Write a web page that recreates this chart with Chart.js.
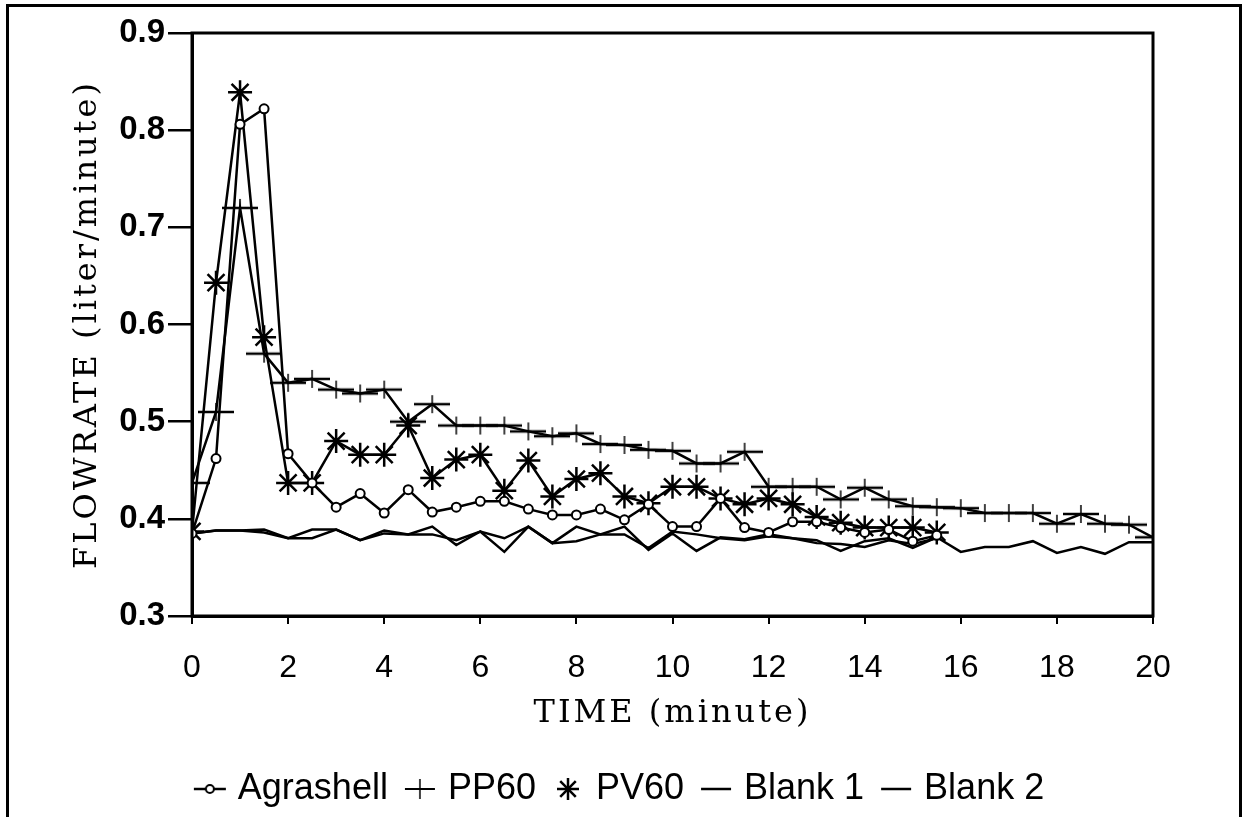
<!DOCTYPE html>
<html>
<head>
<meta charset="UTF-8" />
<title>Flowrate vs time</title>
<script src="https://cdn.jsdelivr.net/npm/chart.js@4.4.1/dist/chart.umd.min.js"></script>
<style>
  body { margin: 0; background: #fff; }
  #wrap { position: relative; width: 1244px; height: 817px; overflow: hidden; }
  #frame { position: absolute; left: 6px; top: 4px; width: 1230px; height: 900px; border: 3px solid #000; }
  canvas { position: absolute; left: 0; top: 0; }
</style>
</head>
<body>
<div id="wrap">
  <div id="frame"></div>
  <canvas id="flowChart" width="1244" height="817"></canvas>
</div>
<script>
// time in minutes
var times = [0, 0.5, 1, 1.5, 2, 2.5, 3, 3.5, 4, 4.5, 5, 5.5, 6, 6.5, 7, 7.5, 8, 8.5, 9, 9.5,
             10, 10.5, 11, 11.5, 12, 12.5, 13, 13.5, 14, 14.5, 15, 15.5, 16, 16.5, 17, 17.5,
             18, 18.5, 19, 19.5, 20];

var agrashell = [0.385, 0.462, 0.806, 0.822, 0.467, 0.437, 0.412, 0.426, 0.406, 0.430,
                 0.407, 0.412, 0.418, 0.418, 0.410, 0.404, 0.404, 0.410, 0.399, 0.415,
                 0.392, 0.392, 0.421, 0.391, 0.386, 0.397, 0.397, 0.391, 0.386, 0.389,
                 0.377, 0.383];

var pp60 = [0.437, 0.510, 0.720, 0.570, 0.540, 0.544, 0.533, 0.529, 0.533, 0.500,
            0.518, 0.496, 0.496, 0.496, 0.490, 0.485, 0.488, 0.477, 0.476, 0.471,
            0.470, 0.457, 0.457, 0.469, 0.433, 0.433, 0.433, 0.420, 0.432, 0.420,
            0.413, 0.412, 0.411, 0.406, 0.406, 0.406, 0.395, 0.405, 0.395, 0.394,
            0.381];

var pv60 = [0.387, 0.643, 0.839, 0.587, 0.437, 0.437, 0.480, 0.466, 0.466, 0.496,
            0.442, 0.461, 0.466, 0.429, 0.460, 0.423, 0.441, 0.447, 0.423, 0.416,
            0.433, 0.433, 0.421, 0.415, 0.421, 0.415, 0.402, 0.396, 0.391, 0.391,
            0.391, 0.386];

var blank1 = [0.385, 0.388, 0.388, 0.389, 0.380, 0.389, 0.389, 0.378, 0.388, 0.384,
              0.392, 0.373, 0.387, 0.366, 0.392, 0.375, 0.392, 0.384, 0.392, 0.368,
              0.385, 0.367, 0.381, 0.379, 0.384, 0.380, 0.378, 0.367, 0.377, 0.380,
              0.370, 0.381, 0.366, 0.371, 0.371, 0.377, 0.365, 0.371, 0.364, 0.376,
              0.376];

var blank2 = [0.385, 0.388, 0.388, 0.386, 0.380, 0.380, 0.389, 0.378, 0.385, 0.384,
              0.384, 0.378, 0.387, 0.380, 0.392, 0.375, 0.377, 0.384, 0.384, 0.370,
              0.387, 0.384, 0.380, 0.378, 0.382, 0.380, 0.375, 0.374, 0.371, 0.378,
              0.374, 0.380];

var yTicks = [0.3, 0.4, 0.5, 0.6, 0.7, 0.8, 0.9];
var xTicks = [0, 2, 4, 6, 8, 10, 12, 14, 16, 18, 20];

// little canvases used as marker shapes
function icon(w, h, paint) {
    var c = document.createElement('canvas');
    c.width = w; c.height = h;
    var g = c.getContext('2d');
    g.strokeStyle = '#000';
    g.fillStyle = '#fff';
    g.lineCap = 'butt';
    paint(g, w, h);
    return c;
}

var ppMarker = icon(36, 20, function (g, w, h) {
    g.lineWidth = 2.5;
    g.beginPath(); g.moveTo(0, h / 2); g.lineTo(w, h / 2); g.stroke();
    g.lineWidth = 1.5;
    g.beginPath(); g.moveTo(w / 2, 1); g.lineTo(w / 2, h - 1); g.stroke();
});

var legendIcons = [
    icon(36, 24, function (g, w, h) {
        g.lineWidth = 2.5;
        g.beginPath(); g.moveTo(2, h / 2); g.lineTo(w - 2, h / 2); g.stroke();
        g.lineWidth = 2;
        g.beginPath(); g.arc(w / 2, h / 2, 4, 0, Math.PI * 2); g.fill(); g.stroke();
    }),
    icon(36, 24, function (g, w, h) {
        g.lineWidth = 2;
        g.beginPath(); g.moveTo(3, h / 2); g.lineTo(w - 3, h / 2); g.stroke();
        g.lineWidth = 1.5;
        g.beginPath(); g.moveTo(w / 2, 2); g.lineTo(w / 2, h - 2); g.stroke();
    }),
    icon(36, 26, function (g, w, h) {
        g.lineWidth = 2.5;
        for (var a = 0; a < 4; a++) {
            var t = a * Math.PI / 4;
            g.beginPath();
            g.moveTo(w / 2 - 11 * Math.cos(t), h / 2 - 11 * Math.sin(t));
            g.lineTo(w / 2 + 11 * Math.cos(t), h / 2 + 11 * Math.sin(t));
            g.stroke();
        }
    }),
    icon(36, 24, function (g, w, h) {
        g.lineWidth = 2.5;
        g.beginPath(); g.moveTo(3, h / 2); g.lineTo(w - 3, h / 2); g.stroke();
    }),
    icon(36, 24, function (g, w, h) {
        g.lineWidth = 2.5;
        g.beginPath(); g.moveTo(3, h / 2); g.lineTo(w - 3, h / 2); g.stroke();
    })
];

// box round the plotting area
var plotFrame = {
    id: 'plotFrame',
    afterDatasetsDraw: function (chart) {
        var a = chart.chartArea, c = chart.ctx;
        c.save();
        c.strokeStyle = '#000';
        c.lineWidth = 3;
        c.strokeRect(a.left, a.top, a.right - a.left, a.bottom - a.top);
        c.restore();
    }
};

// the axis titles are set with wide letter spacing
var spacedTitles = {
    id: 'spacedTitles',
    beforeDraw: function (chart) {
        ['x', 'y'].forEach(function (id) {
            var s = chart.scales[id];
            if (!s || s._spaced) return;
            var orig = s.drawTitle;
            s.drawTitle = function () {
                var c = this.ctx;
                c.save();
                c.letterSpacing = '3px';
                orig.call(this);
                c.restore();
            };
            s._spaced = true;
        });
    }
};

var lineStyle = { borderColor: '#000', borderWidth: 2.5, tension: 0, fill: false };

var ctx = document.getElementById('flowChart');
var flowChart = new Chart(ctx, {
    type: 'line',
    data: {
        labels: times,
        datasets: [
            Object.assign({ label: 'Agrashell', data: agrashell, pointStyle: 'circle', pointRadius: 4.5,
                pointBorderWidth: 2, pointBackgroundColor: '#fff', pointBorderColor: '#000' }, lineStyle),
            Object.assign({ label: 'PP60', data: pp60, pointStyle: ppMarker, pointRadius: 10 }, lineStyle),
            Object.assign({ label: 'PV60', data: pv60, pointStyle: 'star', pointRadius: 12,
                pointBorderWidth: 2.5, pointBorderColor: '#000' }, lineStyle),
            Object.assign({ label: 'Blank 1', data: blank1, pointRadius: 0 }, lineStyle),
            Object.assign({ label: 'Blank 2', data: blank2, pointRadius: 0 }, lineStyle)
        ]
    },
    options: {
        responsive: false,
        animation: false,
        events: [],
        layout: { padding: { top: 33, right: 0, bottom: 0, left: 0 } },
        scales: {
            x: {
                type: 'linear',
                min: 0, max: 20,
                afterBuildTicks: function (s) { s.ticks = xTicks.map(function (v) { return { value: v }; }); },
                afterFit: function (s) { s.height = 133; },
                ticks: { color: '#000', padding: 25, maxRotation: 0,
                    font: { family: 'Liberation Sans', size: 32 } },
                grid: { drawOnChartArea: false, color: '#000', lineWidth: 2, tickLength: 8 },
                border: { color: '#000', width: 3 },
                title: { display: true, text: 'TIME (minute)', color: '#000',
                    font: { family: 'DejaVu Serif', size: 32 }, padding: { top: 0, bottom: 16 } }
            },
            y: {
                min: 0.3, max: 0.9,
                afterBuildTicks: function (s) { s.ticks = yTicks.map(function (v) { return { value: v }; }); },
                afterFit: function (s) { s.width = 192; },
                ticks: { color: '#000', padding: 3,
                    font: { family: 'Liberation Sans', size: 33, weight: 'bold' },
                    callback: function (v) { return v.toFixed(1); } },
                grid: { drawOnChartArea: false, color: '#000', lineWidth: 2.5, tickLength: 24 },
                border: { color: '#000', width: 3 },
                title: { display: true, text: 'FLOWRATE (liter/minute)', color: '#000',
                    font: { family: 'DejaVu Serif', size: 32 }, padding: { top: 68, bottom: 0 } }
            },
            y2: {
                position: 'right',
                afterFit: function (s) { s.width = 91; },
                ticks: { display: false },
                grid: { display: false },
                border: { display: false }
            }
        },
        plugins: {
            legend: {
                position: 'bottom',
                labels: {
                    color: '#000',
                    font: { family: 'Liberation Sans', size: 36 },
                    usePointStyle: true,
                    pointStyleWidth: 20,
                    padding: 22,
                    generateLabels: function (chart) {
                        var items = Chart.defaults.plugins.legend.labels.generateLabels(chart);
                        items.forEach(function (it, i) { it.pointStyle = legendIcons[i]; });
                        return items;
                    }
                }
            },
            tooltip: { enabled: false }
        }
    },
    plugins: [plotFrame, spacedTitles]
});
flowChart.draw();
</script>
</body>
</html>
